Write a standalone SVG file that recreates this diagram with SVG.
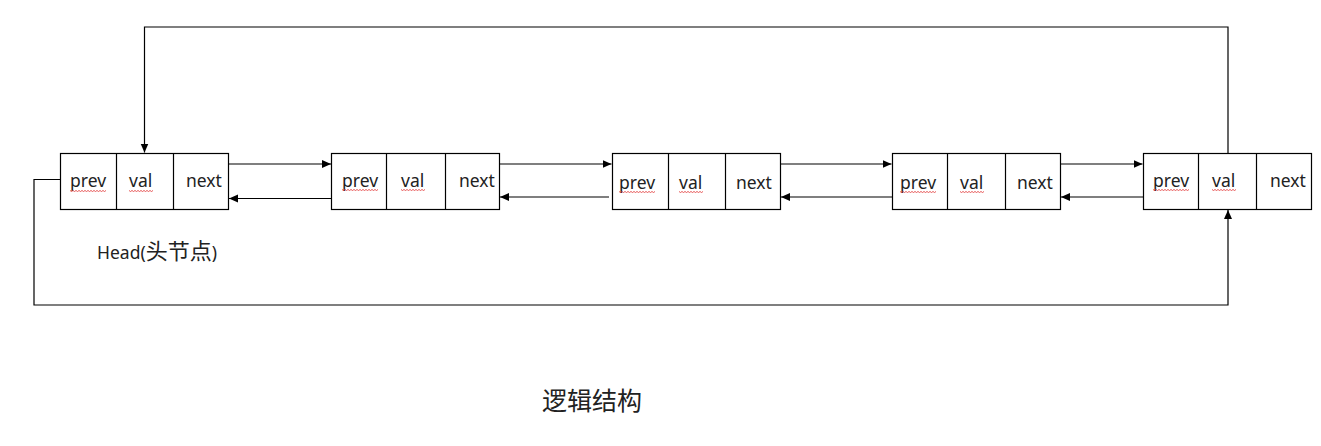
<svg xmlns="http://www.w3.org/2000/svg" width="1321" height="446" viewBox="0 0 1321 446">
<defs>
<marker id="ah" markerWidth="10" markerHeight="10" refX="9" refY="5" orient="auto" markerUnits="userSpaceOnUse">
<path d="M0,1 L9,5 L0,9 Z" fill="#000"/>
</marker>
<style>
.box{fill:#fff;stroke:#000;stroke-width:1.2}
.div{stroke:#000;stroke-width:1.2}
.t{font-family:"Noto Sans","Liberation Sans","Noto Sans CJK SC",sans-serif;font-size:17.5px;fill:#222}
.c{fill:none;stroke:#000;stroke-width:1.2}
.sq{fill:none;stroke:#e03030;stroke-width:0.8}
.cjk{font-family:"Noto Sans CJK SC","Noto Sans",sans-serif;fill:#222}
</style>
</defs>
<rect width="1321" height="446" fill="#fff"/>
<g id="connectors">
<path class="c" d="M60,179.5 H34 V305 H1228 V210" marker-end="url(#ah)"/>
<path class="c" d="M1228,153 V27 H144.5 V152.5" marker-end="url(#ah)"/>
<line class="c" x1="228.5" y1="164" x2="331" y2="164" marker-end="url(#ah)"/>
<line class="c" x1="331.5" y1="198.5" x2="229" y2="198.5" marker-end="url(#ah)"/>
<line class="c" x1="499.5" y1="164" x2="611.5" y2="164" marker-end="url(#ah)"/>
<line class="c" x1="609" y1="197" x2="500" y2="197" marker-end="url(#ah)"/>
<line class="c" x1="780.5" y1="164" x2="891.5" y2="164" marker-end="url(#ah)"/>
<line class="c" x1="892.5" y1="197" x2="781" y2="197" marker-end="url(#ah)"/>
<line class="c" x1="1060.5" y1="164" x2="1142.5" y2="164" marker-end="url(#ah)"/>
<line class="c" x1="1143.5" y1="197" x2="1061" y2="197" marker-end="url(#ah)"/>
</g>
<g id="node1">
<rect class="box" x="60.5" y="153.5" width="168" height="56"/>
<line class="div" x1="116.5" y1="153.5" x2="116.5" y2="209.5"/>
<line class="div" x1="173.5" y1="153.5" x2="173.5" y2="209.5"/>
<text class="t" x="70" y="187">prev</text>
<text class="t" x="129" y="187">val</text>
<text class="t" x="186" y="187">next</text>
<path class="sq" d="M70,190.5 l1.5,1 l1.5,-1 l1.5,1 l1.5,-1 l1.5,1 l1.5,-1 l1.5,1 l1.5,-1 l1.5,1 l1.5,-1 l1.5,1 l1.5,-1 l1.5,1 l1.5,-1 l1.5,1 l1.5,-1 l1.5,1 l1.5,-1 l1.5,1 l1.5,-1 l1.5,1 l1.5,-1 l1.5,1 l1.5,-1"/>
<path class="sq" d="M129,190.5 l1.5,1 l1.5,-1 l1.5,1 l1.5,-1 l1.5,1 l1.5,-1 l1.5,1 l1.5,-1 l1.5,1 l1.5,-1 l1.5,1 l1.5,-1 l1.5,1 l1.5,-1 l1.5,1 l1.5,-1"/>
</g>
<g id="node2">
<rect class="box" x="331.5" y="153.5" width="168" height="56"/>
<line class="div" x1="386.5" y1="153.5" x2="386.5" y2="209.5"/>
<line class="div" x1="445.5" y1="153.5" x2="445.5" y2="209.5"/>
<text class="t" x="342" y="187">prev</text>
<text class="t" x="401" y="187">val</text>
<text class="t" x="459" y="187">next</text>
<path class="sq" d="M342,189.5 l1.5,1 l1.5,-1 l1.5,1 l1.5,-1 l1.5,1 l1.5,-1 l1.5,1 l1.5,-1 l1.5,1 l1.5,-1 l1.5,1 l1.5,-1 l1.5,1 l1.5,-1 l1.5,1 l1.5,-1 l1.5,1 l1.5,-1 l1.5,1 l1.5,-1 l1.5,1 l1.5,-1 l1.5,1 l1.5,-1"/>
<path class="sq" d="M401,189.5 l1.5,1 l1.5,-1 l1.5,1 l1.5,-1 l1.5,1 l1.5,-1 l1.5,1 l1.5,-1 l1.5,1 l1.5,-1 l1.5,1 l1.5,-1 l1.5,1 l1.5,-1 l1.5,1 l1.5,-1"/>
</g>
<g id="node3">
<rect class="box" x="612.5" y="153.5" width="168" height="56"/>
<line class="div" x1="668.5" y1="153.5" x2="668.5" y2="209.5"/>
<line class="div" x1="725.5" y1="153.5" x2="725.5" y2="209.5"/>
<text class="t" x="619" y="189">prev</text>
<text class="t" x="679" y="189">val</text>
<text class="t" x="736" y="189">next</text>
<path class="sq" d="M619,191.5 l1.5,1 l1.5,-1 l1.5,1 l1.5,-1 l1.5,1 l1.5,-1 l1.5,1 l1.5,-1 l1.5,1 l1.5,-1 l1.5,1 l1.5,-1 l1.5,1 l1.5,-1 l1.5,1 l1.5,-1 l1.5,1 l1.5,-1 l1.5,1 l1.5,-1 l1.5,1 l1.5,-1 l1.5,1 l1.5,-1"/>
<path class="sq" d="M679,191.5 l1.5,1 l1.5,-1 l1.5,1 l1.5,-1 l1.5,1 l1.5,-1 l1.5,1 l1.5,-1 l1.5,1 l1.5,-1 l1.5,1 l1.5,-1 l1.5,1 l1.5,-1 l1.5,1 l1.5,-1"/>
</g>
<g id="node4">
<rect class="box" x="892.5" y="153.5" width="168" height="56"/>
<line class="div" x1="947.5" y1="153.5" x2="947.5" y2="209.5"/>
<line class="div" x1="1005.5" y1="153.5" x2="1005.5" y2="209.5"/>
<text class="t" x="900" y="189">prev</text>
<text class="t" x="960" y="189">val</text>
<text class="t" x="1017" y="189">next</text>
<path class="sq" d="M900,191.5 l1.5,1 l1.5,-1 l1.5,1 l1.5,-1 l1.5,1 l1.5,-1 l1.5,1 l1.5,-1 l1.5,1 l1.5,-1 l1.5,1 l1.5,-1 l1.5,1 l1.5,-1 l1.5,1 l1.5,-1 l1.5,1 l1.5,-1 l1.5,1 l1.5,-1 l1.5,1 l1.5,-1 l1.5,1 l1.5,-1"/>
<path class="sq" d="M960,191.5 l1.5,1 l1.5,-1 l1.5,1 l1.5,-1 l1.5,1 l1.5,-1 l1.5,1 l1.5,-1 l1.5,1 l1.5,-1 l1.5,1 l1.5,-1 l1.5,1 l1.5,-1 l1.5,1 l1.5,-1"/>
</g>
<g id="node5">
<rect class="box" x="1143.5" y="153.5" width="168" height="56"/>
<line class="div" x1="1198.5" y1="153.5" x2="1198.5" y2="209.5"/>
<line class="div" x1="1256.5" y1="153.5" x2="1256.5" y2="209.5"/>
<text class="t" x="1153" y="187">prev</text>
<text class="t" x="1212" y="187">val</text>
<text class="t" x="1270" y="187">next</text>
<path class="sq" d="M1153,189.5 l1.5,1 l1.5,-1 l1.5,1 l1.5,-1 l1.5,1 l1.5,-1 l1.5,1 l1.5,-1 l1.5,1 l1.5,-1 l1.5,1 l1.5,-1 l1.5,1 l1.5,-1 l1.5,1 l1.5,-1 l1.5,1 l1.5,-1 l1.5,1 l1.5,-1 l1.5,1 l1.5,-1 l1.5,1 l1.5,-1"/>
<path class="sq" d="M1212,189.5 l1.5,1 l1.5,-1 l1.5,1 l1.5,-1 l1.5,1 l1.5,-1 l1.5,1 l1.5,-1 l1.5,1 l1.5,-1 l1.5,1 l1.5,-1 l1.5,1 l1.5,-1 l1.5,1 l1.5,-1"/>
</g>
<g id="head-label">
<text class="t" x="97" y="259" font-size="18">Head(<tspan class="cjk" font-size="22">头节点</tspan>)</text>
</g>
<g id="title">
<text class="cjk" x="542" y="410" font-size="25">逻辑结构</text>
</g>
</svg>
